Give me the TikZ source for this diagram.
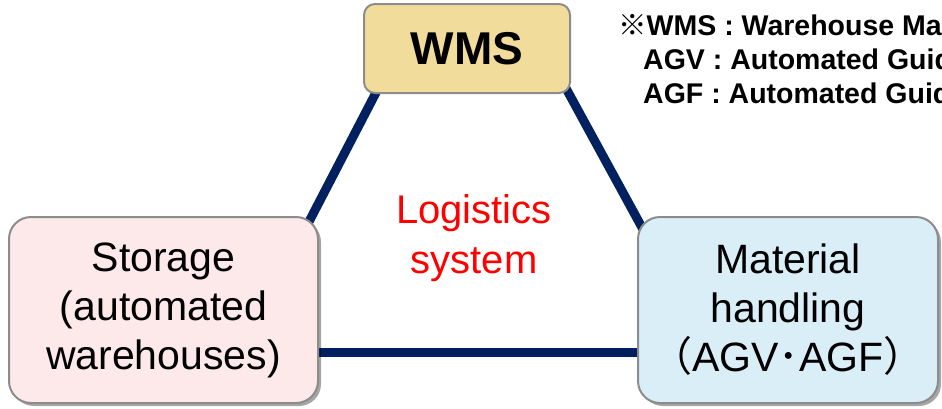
\documentclass[tikz,border=0pt]{standalone}
\usepackage{fontspec}
\setmainfont{Liberation Sans}
\newfontfamily\cjk{Noto Sans CJK JP}
\usepackage{tikz}
\usepackage{xcolor}
\usetikzlibrary{positioning, calc, shadows, backgrounds}

\definecolor{wmsfill}{HTML}{F2DC9B}
\definecolor{storefill}{HTML}{FDE9E9}
\definecolor{mhfill}{HTML}{DAEEF8}
\definecolor{boxline}{HTML}{8C8C8C}
\definecolor{linkblue}{HTML}{002060}

\begin{document}
\begin{tikzpicture}[x=1pt, y=-1pt,
    roundbox/.style={draw=boxline, line width=2pt, rounded corners=22pt, align=center,
        font=\fontsize{41}{49}\selectfont, inner sep=0pt},
    shadowed/.style={drop shadow={shadow xshift=3pt, shadow yshift=-3pt, opacity=.35, fill=black}},
    link/.style={linkblue, line width=9pt}]
\useasboundingbox (0,0) rectangle (942,408);
\clip (0,0) rectangle (942,408);

% WMS on top
\node[roundbox, fill=wmsfill, rounded corners=11pt, minimum width=206pt, minimum height=89pt,
      font=\fontsize{46}{50}\selectfont\bfseries] (wms) at (467,48.5) {WMS};

% Storage and material handling
\node[roundbox, shadowed, fill=storefill, minimum width=309pt, minimum height=186pt] (store)
    at (163.5,310) {Storage\\(automated\\warehouses)};
\node[roundbox, shadowed, fill=mhfill, minimum width=300pt, minimum height=186pt] (mh)
    at (788,310) {Material\\handling\\{\cjk （}AGV{\cjk ･}AGF{\cjk ）}};

% Centre label
\node[text=red, align=center, font=\fontsize{40}{50}\selectfont] (logi) at (474,238) {Logistics\\system};

% Links between the three parts
\begin{scope}[on background layer]
\draw[link] ($(wms.south west)+(19,-13)$) -- ($(store.north east)+(-19,23)$);
\draw[link] ($(wms.south east)+(-9,-13)$) -- ($(mh.north west)+(14,28)$);
\draw[link] ($(store.east)+(-5,42)$) -- ($(mh.west)+(5,42)$);
\end{scope}

% Abbreviations
\node[anchor=base west, font=\fontsize{28.5}{34}\selectfont\bfseries, align=left, inner sep=0pt] (note)
    at (618,103) {{\cjk ※}WMS : Warehouse Management System\\
    \hspace*{25pt}AGV : Automated Guided Vehicle\\
    \hspace*{25pt}AGF : Automated Guided Forklift};
\end{tikzpicture}
\end{document}
